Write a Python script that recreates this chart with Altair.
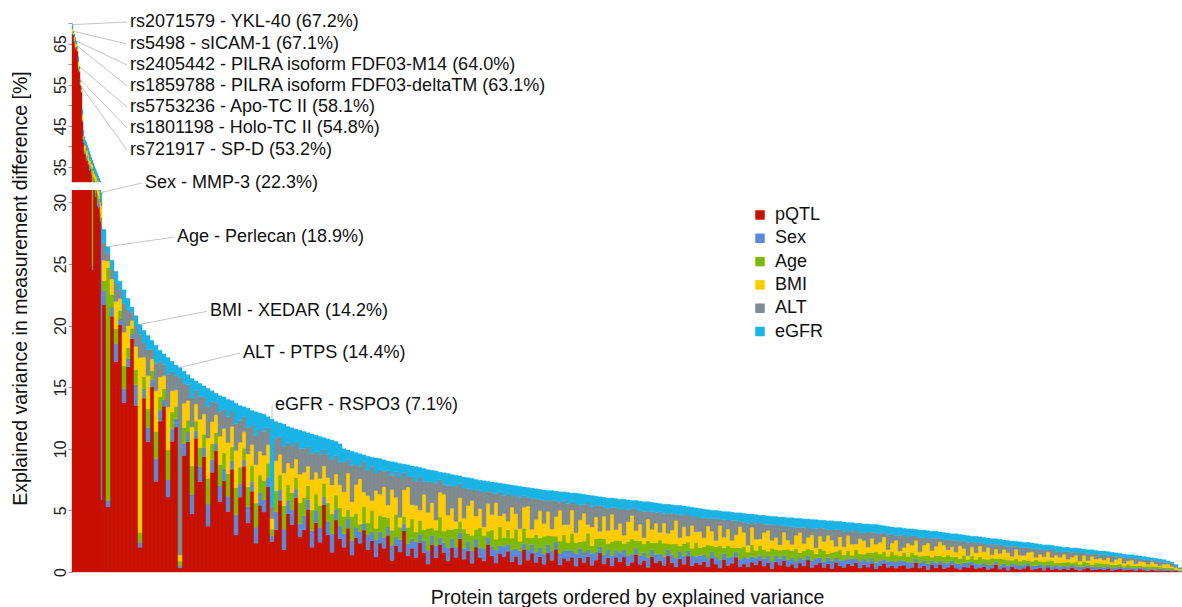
import altair as alt
import pandas as pd

FACTORS = ["pQTL", "Sex", "Age", "BMI", "ALT", "eGFR"]
COLORS = ["#c81200", "#5b89d8", "#80b80a", "#ffcc00", "#7f8b90", "#19b3e6"]

# ---- total explained variance (%) per bar, ordered ----
# first 30 proteins drawn individually
TOTAL_TOP = [69.6, 68.0, 67.3, 66.4, 65.6, 64.4, 61.8, 59.4, 56.2, 54.5,
             49.0, 44.0, 42.4, 41.5, 41.0, 40.3, 39.6, 38.8, 38.0, 37.3,
             36.6, 35.9, 35.2, 34.6, 34.0, 33.4, 32.8, 32.2, 31.6, 30.8]
# remaining proteins, 4 per bar
GROUP = 4
TOTAL_REST = [27.8, 26.4, 25.3, 24.4, 23.6, 22.9, 22.2, 21.5, 20.8,
              20.1, 19.6, 19.2, 18.8, 18.4, 18.0, 17.7, 17.4, 17.1, 16.8,
              16.6, 16.3, 16.0, 15.7, 15.5, 15.3, 15.1, 14.9,
              14.7, 14.5, 14.3, 14.2, 14.0, 13.9, 13.7, 13.5,
              13.4, 13.3, 13.1, 13.0, 12.9, 12.8, 12.6, 12.4, 12.2,
              12.1, 12.0, 11.8, 11.7, 11.6, 11.5, 11.4, 11.3,
              11.2, 11.1, 11.0, 10.9, 10.8, 10.7, 10.6, 10.4,
              10.0, 9.9, 9.8, 9.7, 9.6, 9.5, 9.4, 9.3, 9.25, 9.2,
              9.1, 9.0, 8.95, 8.9, 8.8, 8.75, 8.7, 8.6, 8.55, 8.5, 8.4, 8.3,
              8.25, 8.2, 8.1, 8.05, 8.0, 7.9, 7.85, 7.8, 7.7, 7.65, 7.6, 7.5,
              7.45, 7.4, 7.35, 7.3, 7.25, 7.2, 7.15, 7.1, 7.05, 7.0, 6.95, 6.9,
              6.85, 6.8, 6.75, 6.7, 6.65, 6.6, 6.6, 6.55, 6.5, 6.5, 6.45, 6.4, 6.4,
              6.35, 6.3, 6.25, 6.2, 6.15, 6.1, 6.05, 6.0, 6.0, 5.95, 5.9, 5.9,
              5.85, 5.8, 5.8, 5.75, 5.7, 5.7, 5.65, 5.6, 5.55, 5.5, 5.5, 5.45, 5.4,
              5.4, 5.35, 5.3, 5.25, 5.2, 5.15, 5.1, 5.05, 5.0, 5.0, 4.95, 4.9,
              4.9, 4.85, 4.8, 4.8, 4.75, 4.7, 4.7, 4.65, 4.6, 4.6, 4.55, 4.5, 4.5,
              4.45, 4.45, 4.4, 4.4, 4.35, 4.35, 4.3, 4.3, 4.25, 4.25, 4.2, 4.2,
              4.15, 4.15, 4.1, 4.1, 4.05, 4.0, 4.0, 3.95, 3.95, 3.9, 3.9, 3.85, 3.85,
              3.8, 3.75, 3.7, 3.65, 3.6, 3.6, 3.55, 3.5, 3.5, 3.45, 3.4, 3.4,
              3.35, 3.3, 3.3, 3.25, 3.2, 3.15, 3.1, 3.1, 3.05, 3.0, 2.95, 2.9, 2.9,
              2.85, 2.8, 2.75, 2.7, 2.7, 2.65, 2.6, 2.55, 2.5, 2.5, 2.45, 2.4,
              2.4, 2.35, 2.3, 2.25, 2.2, 2.2, 2.15, 2.1, 2.05, 2.0, 2.0, 1.95, 1.95,
              1.9, 1.85, 1.8, 1.8, 1.75, 1.7, 1.7, 1.65, 1.6, 1.55, 1.5, 1.45, 1.4,
              1.4, 1.35, 1.3, 1.25, 1.2, 1.15, 1.1, 1.05, 1.0, 0.9, 0.8, 0.6, 0.35]

# ---- share (%) of each covariate per bar (same order as totals) ----
PQTL = [96.6, 98.7, 97, 96, 97.6, 98.0, 95, 97.8, 97.5, 97.6, 94, 93, 90, 92, 89, 91, 90, 88, 91, 89,
        67, 87, 90, 88, 91, 89, 90, 92, 90, 19,
        78, 20, 82, 70, 85, 60, 75, 88, 65, 10,
        72, 55, 80, 40, 68, 76, 35, 62, 70, 2,
        58, 66, 30, 70, 48, 62, 25, 55, 68, 40,
        52, 35, 60, 22, 45, 64, 30, 50, 18, 42,
        38, 55, 20, 28, 48, 15, 40, 33, 52, 25,
        30, 45, 18, 36, 22, 50, 28, 15, 40, 26,
        20, 38, 14, 30, 24, 44, 18, 32, 12, 26,
        22, 35, 10, 28, 18, 40, 16, 25, 12, 30,
        18, 8, 26, 14, 33, 20, 11, 24, 16, 38,
        14, 22, 9, 28, 17, 12, 31, 19, 10, 24,
        16, 26, 11, 20, 8, 30, 14, 22, 12, 18,
        10, 24, 15, 28, 9, 19, 13, 21, 7, 17,
        12, 23, 8, 16, 27, 11, 18, 9, 21, 14,
        20, 9, 15, 25, 11, 17, 7, 22, 13, 18,
        10, 24, 14, 8, 19, 12, 26, 9, 16, 11,
        17, 9, 22, 13, 7, 20, 11, 15, 25, 10,
        14, 8, 19, 12, 23, 10, 16, 6, 18, 13,
        21, 11, 15, 8, 17, 12, 24, 9, 14, 19,
        10, 16, 7, 20, 13, 9, 18, 12, 22, 8,
        15, 11, 19, 7, 13, 21, 10, 16, 9, 14,
        18, 8, 12, 23, 10, 15, 6, 17, 11, 20,
        9, 14, 19, 11, 7, 16, 12, 21, 10, 13,
        17, 8, 13, 22, 10, 15, 6, 18, 12, 9,
        14, 20, 9, 12, 16, 7, 19, 11, 13, 8,
        15, 10, 18, 12, 7, 14, 21, 9, 13, 16,
        11, 17, 8, 13, 20, 10, 15, 12, 9, 18,
        12, 9, 16, 11, 14, 8, 13, 10, 15, 12]
SEX = [0.3, 0.1, 0.2, 0.3, 0.1, 0.1, 0.5, 0.2, 0.2, 0.1, 0.5, 1, 1, 1, 2, 1, 1, 3, 1, 1,
       1, 2, 1, 1, 1, 2, 1, 1, 1, 72.4,
       4, 2, 3, 6, 2, 5, 3, 2, 8, 2,
       4, 6, 3, 10, 5, 3, 8, 6, 4, 1,
       6, 5, 10, 4, 8, 5, 12, 7, 4, 9,
       7, 9, 5, 12, 8, 4, 10, 6, 10, 8,
       8, 6, 4, 12, 7, 14, 9, 10, 6, 9,
       10, 7, 12, 9, 11, 6, 10, 14, 8, 10,
       11, 8, 12, 9, 10, 7, 12, 9, 14, 10,
       10, 8, 13, 9, 11, 7, 12, 10, 13, 9,
       11, 14, 9, 12, 8, 10, 13, 9, 11, 7,
       12, 10, 13, 9, 11, 13, 8, 11, 14, 10,
       11, 9, 13, 10, 14, 8, 12, 10, 13, 11,
       13, 10, 12, 9, 14, 11, 12, 10, 15, 11,
       12, 10, 14, 11, 9, 13, 11, 14, 10, 12,
       10, 14, 12, 9, 13, 11, 15, 10, 12, 11,
       13, 9, 12, 14, 11, 13, 9, 14, 11, 13,
       11, 14, 10, 12, 15, 10, 13, 12, 9, 13,
       12, 14, 11, 13, 10, 13, 12, 15, 11, 12,
       10, 13, 12, 14, 11, 13, 9, 14, 12, 11,
       13, 12, 15, 10, 12, 14, 11, 13, 10, 14,
       12, 13, 11, 15, 12, 10, 13, 12, 14, 12,
       11, 14, 13, 10, 13, 12, 15, 11, 13, 10,
       14, 12, 11, 13, 15, 12, 13, 10, 14, 12,
       11, 14, 12, 10, 13, 12, 15, 11, 13, 14,
       12, 10, 14, 13, 12, 15, 11, 13, 12, 14,
       12, 13, 11, 13, 15, 12, 10, 14, 13, 12,
       13, 12, 14, 12, 11, 14, 12, 13, 14, 11,
       13, 14, 12, 13, 12, 15, 13, 14, 12, 13]
AGE = [0.4, 0.2, 0.5, 0.4, 0.3, 0.3, 0.5, 0.2, 0.3, 0.3, 0.5, 1, 1, 1, 1, 2, 1, 1, 1, 3,
       27, 2, 1, 2, 1, 1, 2, 1, 1, 2,
       3, 71.6, 4, 5, 3, 8, 4, 2, 6, 4,
       5, 8, 4, 12, 6, 5, 14, 8, 6, 2.3,
       8, 6, 15, 5, 10, 7, 14, 9, 6, 12,
       9, 13, 8, 16, 10, 7, 12, 10, 15, 11,
       12, 9, 4, 14, 10, 16, 11, 12, 8, 15,
       13, 10, 15, 12, 16, 10, 14, 15, 11, 14,
       14, 8, 20, 12, 6, 18, 10, 22, 9, 15,
       19, 9, 13, 24, 11, 7, 16, 21, 8, 14,
       10, 22, 7, 15, 25, 12, 18, 9, 20, 13,
       21, 8, 16, 11, 23, 14, 7, 19, 12, 24,
       9, 18, 13, 25, 10, 20, 15, 8, 22, 11,
       23, 12, 19, 7, 16, 21, 10, 24, 13, 8,
       15, 25, 9, 18, 12, 22, 7, 20, 14, 17,
       8, 19, 24, 11, 21, 13, 25, 10, 17, 22,
       20, 9, 16, 23, 8, 19, 14, 11, 24, 12,
       13, 22, 10, 17, 24, 9, 20, 15, 7, 21,
       18, 10, 23, 12, 20, 15, 8, 25, 11, 16,
       11, 21, 14, 25, 9, 18, 13, 22, 8, 19,
       24, 8, 17, 13, 22, 10, 19, 7, 21, 15,
       9, 20, 12, 24, 14, 18, 11, 23, 16, 10,
       22, 13, 25, 9, 17, 12, 21, 8, 19, 14,
       16, 24, 10, 20, 13, 23, 9, 18, 11, 25,
       12, 17, 21, 8, 24, 14, 19, 10, 22, 13,
       20, 9, 15, 23, 11, 18, 13, 25, 8, 16,
       14, 22, 9, 19, 12, 24, 16, 10, 21, 17,
       23, 11, 18, 14, 20, 9, 25, 12, 16, 10,
       10, 19, 13, 22, 15, 11, 18, 24, 9, 21]
BMI = [1.2, 0.5, 1.3, 1.5, 1.0, 0.8, 2, 0.8, 1.0, 0.9, 2.5, 2, 3, 3, 3, 3, 4, 3, 3, 3,
       2, 4, 3, 4, 3, 3, 3, 2, 3, 3,
       6, 2, 5, 9, 4, 12, 8, 3, 9, 70.6,
       8, 14, 5, 18, 9, 6, 20, 10, 8, 3,
       12, 10, 20, 9, 15, 11, 22, 12, 10, 16,
       14, 18, 12, 22, 15, 10, 20, 13, 24, 15,
       16, 12, 7, 20, 14, 22, 15, 17, 13, 20,
       18, 14, 22, 16, 20, 13, 19, 22, 16, 18,
       20, 32, 12, 25, 38, 15, 22, 10, 30, 19,
       28, 12, 35, 18, 9, 26, 40, 15, 22, 11,
       33, 16, 24, 10, 30, 38, 14, 21, 8, 27,
       12, 29, 36, 15, 22, 9, 31, 18, 40, 14,
       25, 11, 34, 20, 13, 28, 37, 10, 19, 32,
       16, 30, 9, 24, 39, 14, 21, 33, 12, 26,
       35, 13, 22, 29, 10, 31, 17, 38, 15, 23,
       11, 27, 36, 14, 24, 9, 32, 19, 28, 12,
       30, 15, 21, 37, 12, 26, 10, 33, 18, 24,
       14, 31, 23, 10, 35, 17, 28, 12, 22, 38,
       25, 11, 33, 19, 13, 29, 36, 15, 21, 10,
       32, 18, 12, 27, 38, 14, 23, 30, 11, 26,
       19, 35, 24, 10, 28, 16, 33, 21, 13, 30,
       27, 12, 31, 18, 25, 36, 14, 22, 34, 11,
       13, 29, 20, 35, 11, 26, 32, 16, 24, 37,
       30, 15, 26, 12, 33, 21, 10, 28, 18, 35,
       22, 36, 11, 29, 17, 31, 24, 13, 34, 20,
       16, 27, 33, 10, 25, 19, 37, 14, 29, 22,
       34, 12, 24, 30, 15, 28, 11, 35, 20, 26,
       18, 31, 13, 27, 36, 16, 23, 32, 12, 25,
       29, 14, 35, 20, 11, 26, 33, 17, 24, 30]
ALT = [0.5, 0.2, 0.3, 0.8, 0.3, 0.3, 1, 0.4, 0.4, 0.4, 1, 1, 2, 1, 2, 1, 1, 2, 2, 1,
       1, 2, 2, 2, 1, 2, 1, 1, 2, 1.6,
       5, 2.4, 3, 6, 3, 10, 6, 3, 8, 9.4,
       6, 11, 4, 12, 7, 5, 15, 9, 7, 86.7,
       10, 8, 15, 7, 12, 9, 17, 11, 7, 14,
       11, 15, 9, 16, 13, 9, 16, 12, 18, 14,
       15, 11, 7.7, 15, 12, 18, 14, 16, 12, 18,
       17, 14, 19, 15, 18, 12, 17, 19, 14, 18,
       24, 12, 30, 18, 10, 32, 20, 35, 14, 22,
       14, 33, 12, 27, 36, 17, 10, 30, 20, 34,
       12, 31, 20, 36, 15, 10, 29, 22, 38, 16,
       33, 18, 11, 30, 21, 37, 14, 26, 10, 31,
       19, 35, 12, 24, 32, 16, 10, 36, 27, 13,
       30, 14, 36, 20, 10, 33, 25, 12, 34, 18,
       11, 32, 24, 15, 37, 13, 28, 10, 31, 20,
       35, 17, 10, 31, 19, 38, 12, 26, 15, 33,
       14, 30, 25, 10, 34, 18, 36, 12, 27, 20,
       32, 13, 20, 36, 11, 28, 15, 34, 24, 10,
       18, 35, 12, 27, 33, 14, 10, 31, 22, 37,
       12, 26, 34, 16, 10, 32, 21, 13, 36, 17,
       28, 11, 20, 35, 15, 30, 12, 24, 33, 13,
       16, 34, 13, 27, 19, 10, 32, 23, 11, 35,
       33, 14, 25, 11, 36, 18, 12, 29, 21, 10,
       13, 31, 17, 34, 11, 24, 36, 15, 28, 12,
       26, 10, 35, 14, 30, 12, 21, 33, 11, 25,
       31, 16, 12, 35, 18, 27, 10, 32, 14, 24,
       11, 33, 20, 14, 34, 13, 36, 10, 26, 18,
       29, 12, 35, 16, 10, 31, 22, 13, 34, 17,
       14, 32, 11, 25, 35, 15, 12, 30, 19, 13]
EGFR = [1.0, 0.3, 0.7, 1.0, 0.7, 0.5, 1, 0.6, 0.6, 0.7, 1.5, 2, 3, 2, 3, 2, 3, 3, 2, 3,
        2, 3, 3, 3, 3, 3, 3, 3, 3, 2,
        4, 2, 3, 4, 3, 5, 4, 2, 4, 4,
        5, 6, 4, 8, 5, 5, 8, 5, 5, 5,
        6, 5, 10, 5, 7, 6, 10, 6, 5, 9,
        7, 10, 6, 12, 9, 6, 12, 9, 15, 10,
        11, 7, 57.3, 11, 9, 15, 11, 12, 9, 13,
        12, 10, 14, 12, 13, 9, 12, 15, 11, 14,
        11, 8, 12, 10, 11, 7, 12, 9, 12, 10,
        11, 9, 12, 10, 12, 8, 12, 11, 12, 10,
        12, 12, 11, 12, 9, 12, 12, 11, 12, 9,
        12, 11, 12, 11, 12, 12, 11, 12, 12, 11,
        12, 11, 12, 12, 12, 11, 12, 12, 12, 12,
        13, 12, 13, 11, 13, 12, 13, 12, 13, 13,
        13, 12, 13, 13, 12, 13, 13, 13, 13, 13,
        13, 13, 13, 12, 14, 14, 14, 13, 14, 13,
        14, 13, 13, 14, 13, 14, 12, 14, 14, 14,
        14, 14, 13, 14, 14, 13, 14, 14, 13, 15,
        15, 15, 14, 15, 14, 15, 15, 15, 15, 15,
        16, 18, 17, 18, 17, 17, 16, 18, 17, 16,
        18, 17, 18, 17, 18, 18, 17, 17, 16, 18,
        18, 18, 17, 18, 18, 17, 18, 17, 18, 17,
        17, 18, 18, 16, 19, 18, 19, 18, 18, 17,
        19, 18, 17, 18, 18, 17, 18, 17, 18, 18,
        18, 19, 18, 17, 19, 18, 19, 17, 18, 19,
        18, 18, 19, 19, 18, 19, 18, 19, 19, 19,
        19, 19, 18, 19, 19, 18, 18, 19, 19, 18,
        20, 18, 20, 19, 18, 19, 19, 19, 19, 18,
        20, 19, 18, 20, 19, 20, 19, 20, 19, 20]

# ---- annotations ----
ANN_TEXT = ["rs2071579 - YKL-40 (67.2%)", "rs5498 - sICAM-1 (67.1%)",
            "rs2405442 - PILRA isoform FDF03-M14 (64.0%)",
            "rs1859788 - PILRA isoform FDF03-deltaTM (63.1%)",
            "rs5753236 - Apo-TC II (58.1%)", "rs1801198 - Holo-TC II (54.8%)",
            "rs721917 - SP-D (53.2%)", "Sex - MMP-3 (22.3%)",
            "Age - Perlecan (18.9%)", "BMI - XEDAR (14.2%)",
            "ALT - PTPS (14.4%)", "eGFR - RSPO3 (7.1%)"]
ANN_BAR = [0, 1, 4, 5, 7, 8, 9, 29, 31, 39, 49, 72]          # bar the label points to
ANN_X = [58, 58, 58, 58, 58, 58, 58, 73, 105, 138, 171, 203]  # label position (rank)
ANN_Y = [70.25, 64.9, 59.8, 54.7, 49.6, 44.5, 39.1, 31.27, 27.18, 21.15, 17.77, 13.55]

# ---- build tables ----
totals = TOTAL_TOP + TOTAL_REST
share_cols = [PQTL, SEX, AGE, BMI, ALT, EGFR]
n_top = len(TOTAL_TOP)
rows, centers = [], []
for i, tot in enumerate(totals):
    if i < n_top:
        x0, x1 = i, i + 1
    else:
        x0 = n_top + GROUP * (i - n_top)
        x1 = x0 + GROUP
    centers.append((x0 + x1) / 2)
    s = [col[i] for col in share_cols]
    ssum = sum(s)
    base = 0.0
    for k, f in enumerate(FACTORS):
        v = tot * s[k] / ssum
        rows.append({"x0": x0, "x1": x1, "y0": base, "y1": base + v, "factor": f, "k": k})
        base += v
bars_df = pd.DataFrame(rows)
n_ranks = n_top + GROUP * len(TOTAL_REST)

ann_df = pd.DataFrame({
    "text": ANN_TEXT,
    "lx": ANN_X,
    "ly": ANN_Y,
    "bx": [centers[b] for b in ANN_BAR],
    "by": [totals[b] for b in ANN_BAR],
})
ann_df["ex"] = ann_df["lx"] - 3

# ---- layout (broken y axis via piecewise scale) ----
W, H = n_ranks, 549
PAD_L, PAD_T, PAD_R, PAD_B = 72, 23, 0, 35
Y_DOMAIN = [0, 31, 31.3, 70]
Y_RANGE = [H, 167, 159.2, 0]
Y_TICKS = [0, 5, 10, 15, 20, 25, 30, 35, 40, 45, 50, 55, 60, 65, 70]

FONT = "Liberation Sans"
xs = alt.Scale(domain=[0, n_ranks], nice=False, zero=False)
ys = alt.Scale(domain=Y_DOMAIN, range=Y_RANGE, nice=False, zero=False)
cs = alt.Scale(domain=FACTORS, range=COLORS)

y_axis = alt.Axis(
    values=Y_TICKS, tickCount=40,
    labelExpr="(datum.value <= 30 || datum.value % 10 == 5) ? datum.label : ''",
    labelOverlap=False, labelFlush=False,
    labelAngle=270, labelAlign="center", labelBaseline="alphabetic",
    labelFontSize=16, labelColor="#222", labelPadding=3, labelFont=FONT,
    tickSize=4, tickColor="#999", domainColor="#999", grid=False,
    title="Explained variance in measurement difference [%]",
    titleAngle=270, titleX=-52, titleY=265, titleAlign="center", titleBaseline="middle",
    titleFontSize=19.5, titleFontWeight="normal", titleColor="#111", titleFont=FONT,
)
x_axis = alt.Axis(
    labels=False, ticks=False, domain=False, grid=False,
    title="Protein targets ordered by explained variance",
    titleFontSize=19.5, titleFontWeight="normal", titleColor="#111", titleFont=FONT,
    titleY=25, titleBaseline="middle",
)

bars = alt.Chart(bars_df).mark_rect(strokeWidth=0.4).encode(
    x=alt.X("x0:Q", scale=xs, axis=x_axis),
    x2="x1:Q",
    y=alt.Y("y0:Q", scale=ys, axis=y_axis),
    y2="y1:Q",
    color=alt.Color("factor:N", scale=cs, legend=alt.Legend(
        orient="none", legendX=679, legendY=183, title=None,
        symbolType="square", symbolSize=90, symbolStrokeWidth=0,
        labelFontSize=18, labelFont=FONT, labelColor="#111",
        labelOffset=6, rowPadding=5.3,
    )),
    stroke=alt.Stroke("factor:N", scale=cs, legend=None),
    order=alt.Order("k:Q", sort="ascending"),
)

mask = alt.Chart(pd.DataFrame({"a": [0]})).mark_rect(color="white").encode(
    x=alt.value(-10), x2=alt.value(W + 2),
    y=alt.datum(Y_DOMAIN[1]), y2=alt.datum(Y_DOMAIN[2]),
)

leaders = alt.Chart(ann_df).mark_rule(color="#c4c4c4", strokeWidth=1).encode(
    x="bx:Q", y="by:Q", x2="ex:Q", y2="ly:Q",
)

labels = alt.Chart(ann_df).mark_text(
    align="left", baseline="middle", fontSize=18, font=FONT, color="#111",
).encode(x="lx:Q", y="ly:Q", text="text:N")

chart = alt.layer(bars, mask, leaders, labels).properties(
    width=W, height=H,
    padding={"left": PAD_L, "top": PAD_T, "right": PAD_R, "bottom": PAD_B},
    autosize=alt.AutoSizeParams(type="none"),
).configure(font=FONT).configure_view(stroke=None)

chart.save("out.html", embed_options={"renderer": "svg", "actions": False})
